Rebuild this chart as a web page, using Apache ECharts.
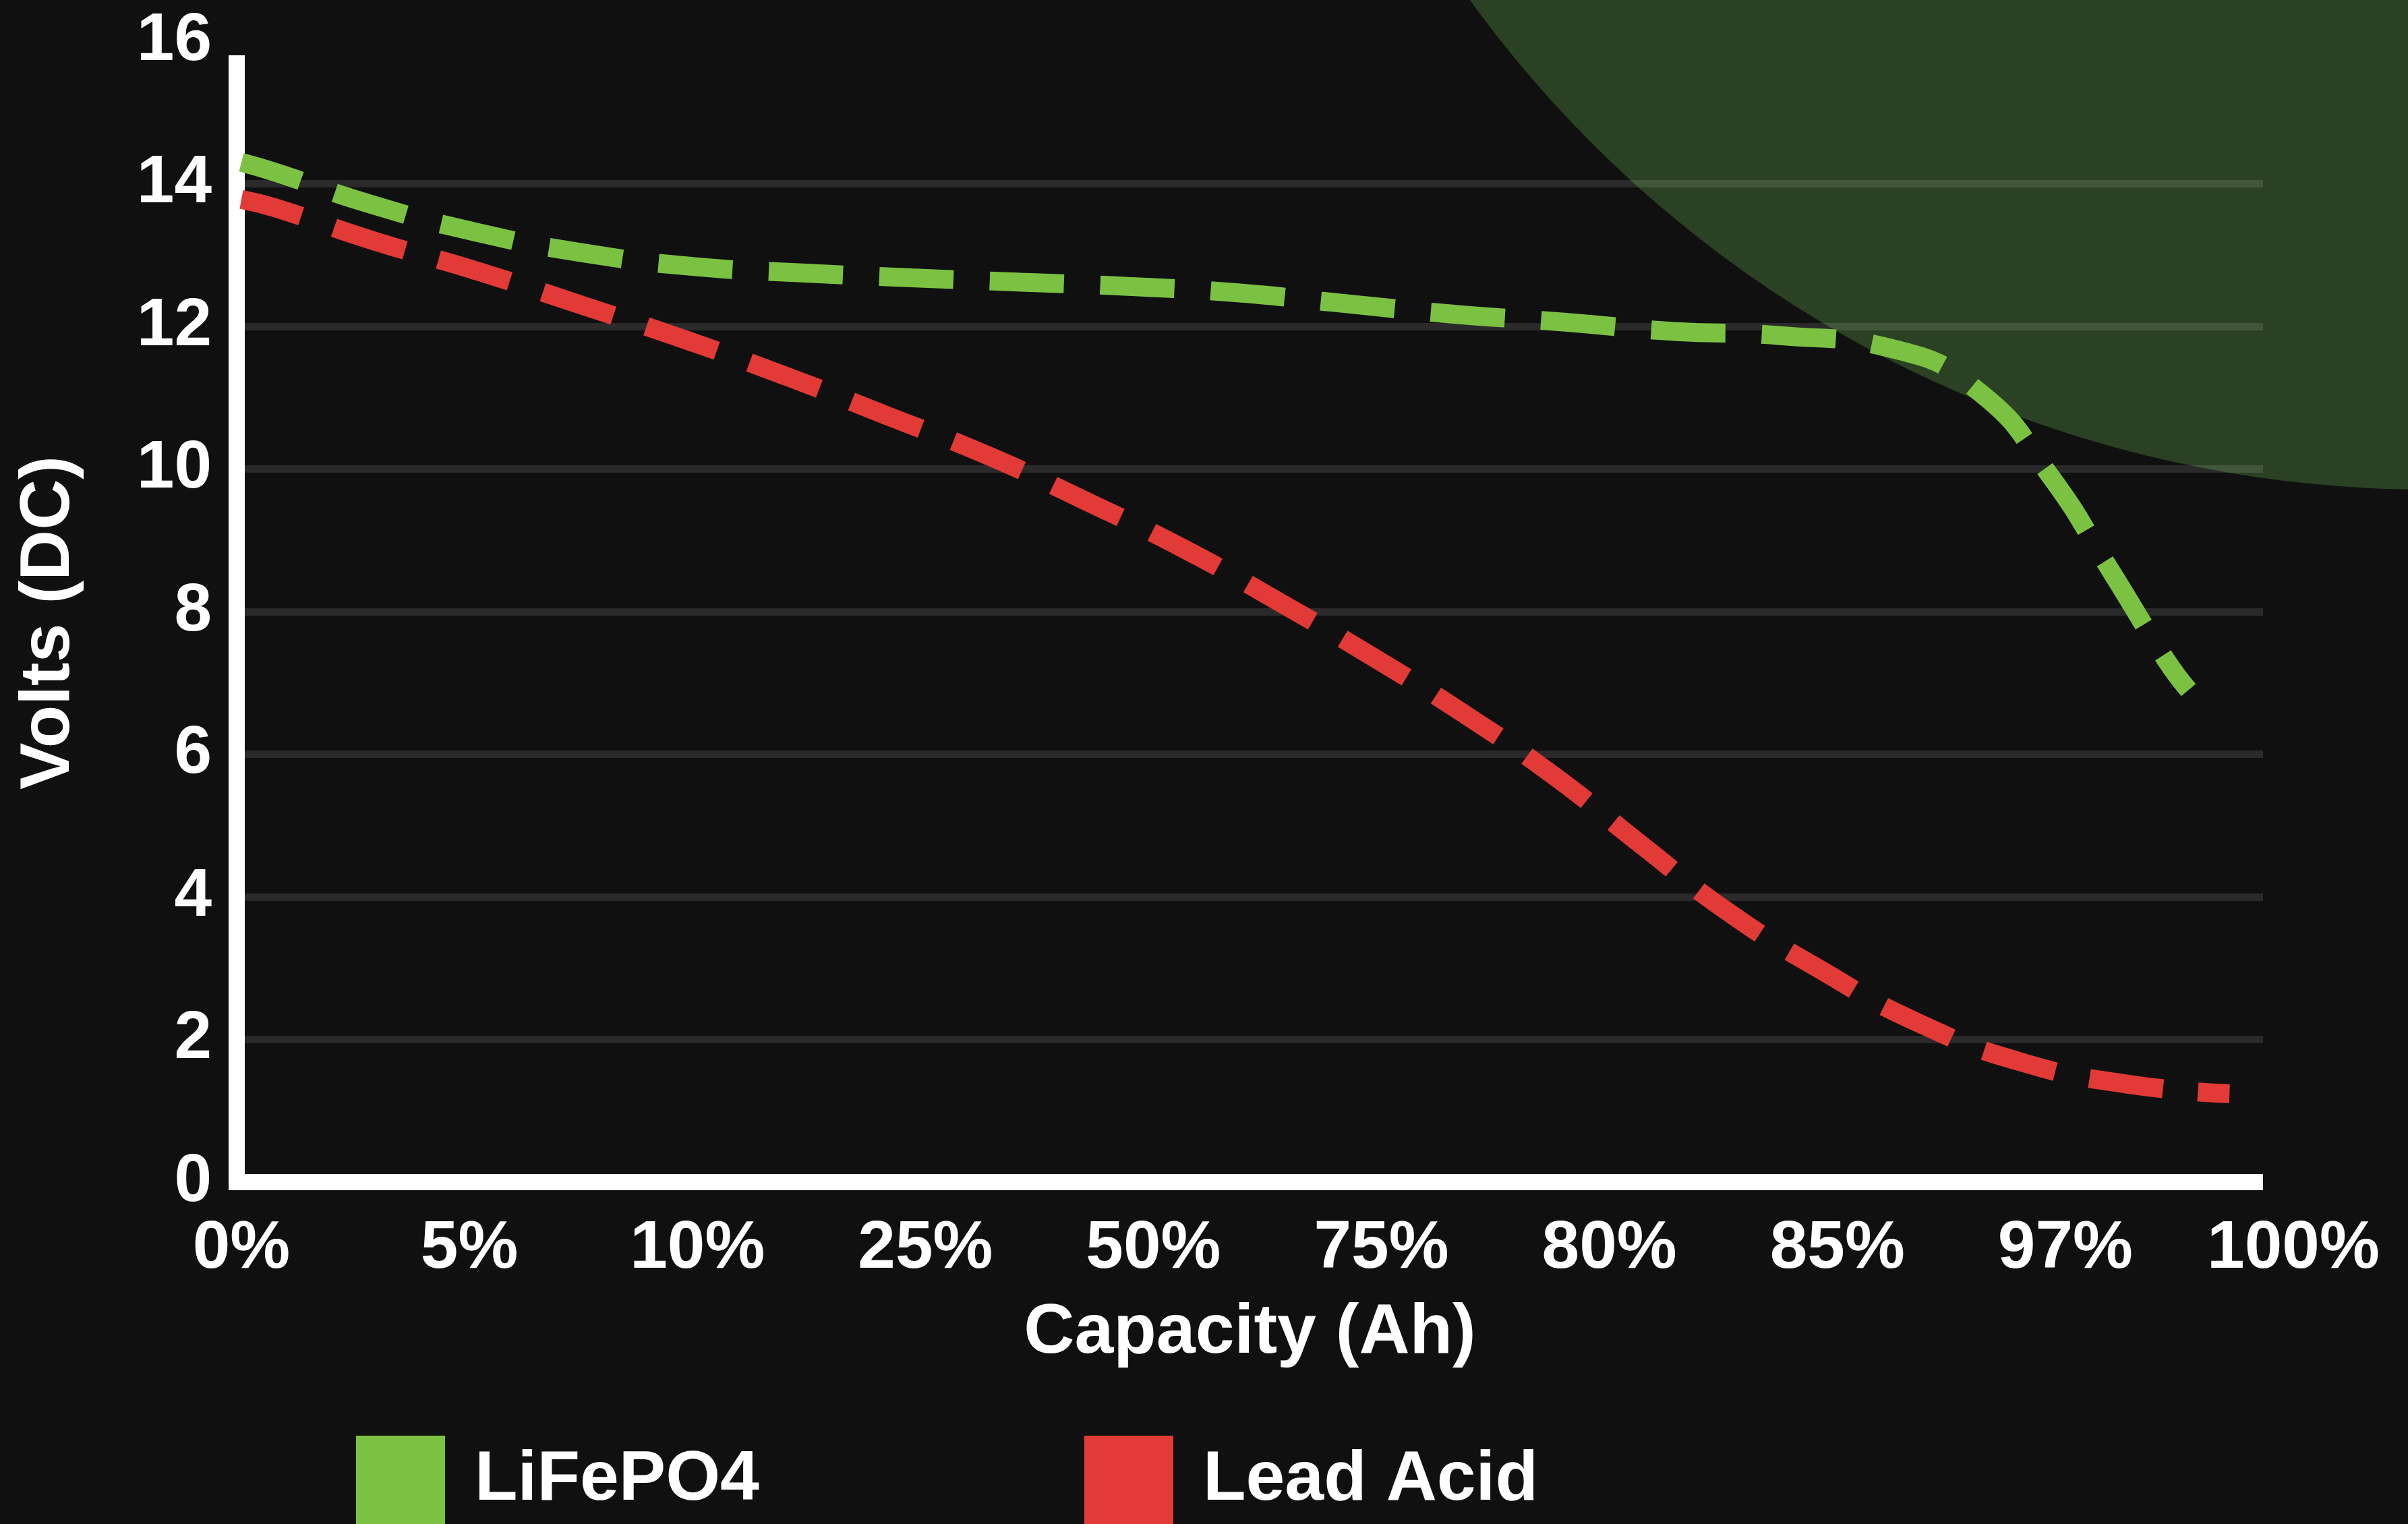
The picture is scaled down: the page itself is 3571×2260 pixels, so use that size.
<!DOCTYPE html>
<html>
<head>
<meta charset="utf-8">
<script src="https://cdn.jsdelivr.net/npm/echarts@6/dist/echarts.min.js"></script>
<style>
html,body{margin:0;padding:0;background:#101010;}
#chart{width:3571px;height:2260px;}
</style>
</head>
<body>
<div id="chart"></div>
<script>
// ---- data ----
const capacityLabels = ['0%', '5%', '10%', '25%', '50%', '75%', '80%', '85%', '97%', '100%'];
// x positions in label-index units (0 = "0%", 9 = "100%")
const lifepo4X = [0, 0.14, 0.56, 1.03, 1.50, 1.98, 2.46, 2.94, 3.42, 3.89, 4.37, 4.84, 5.32, 5.80, 6.28, 6.75, 7.25, 7.63, 7.93, 8.19, 8.44, 8.54];
const lifepo4V = [14.30, 14.17, 13.72, 13.32, 13.03, 12.84, 12.75, 12.68, 12.62, 12.56, 12.47, 12.32, 12.17, 12.06, 11.93, 11.87, 11.68, 11.06, 9.92, 8.62, 7.33, 6.90];
const leadAcidX = [0, 0.15, 0.57, 1.03, 1.49, 1.94, 2.39, 2.83, 3.28, 3.71, 4.14, 4.56, 4.97, 5.37, 5.76, 6.14, 6.52, 6.93, 7.35, 7.81, 8.28, 8.72];
const leadAcidV = [13.78, 13.66, 13.21, 12.78, 12.30, 11.82, 11.30, 10.75, 10.18, 9.54, 8.87, 8.12, 7.35, 6.55, 5.69, 4.73, 3.79, 2.97, 2.24, 1.68, 1.37, 1.24];
const seriesNames = ['LiFePO4', 'Lead Acid'];
const yMin = 0, yMax = 16, yInterval = 2;

// ---- layout ----
const FONT = '"Liberation Sans", Arial, Helvetica, sans-serif';
const GREEN = '#7cc242', RED = '#e23a36';
const zeroY = 1753, unitPx = 105.75;
const axisTopY = 94;
const frameMax = (zeroY - axisTopY) / unitPx;

const chart = echarts.init(document.getElementById('chart'));
const zip = (xs, ys) => xs.map((x, i) => [x, ys[i]]);

const legendBase = (name, left, color) => ({
  data: [name], left: left, top: 2129, padding: 0, orient: 'horizontal',
  icon: 'rect', itemWidth: 132, itemHeight: 132,
  itemStyle: {color: color, borderWidth: 0},
  selectedMode: false,
  textStyle: {color: '#ffffff', fontSize: 104, fontWeight: 'bold', fontFamily: FONT, padding: [6, 0, 0, 39]}
});

chart.setOption({
  backgroundColor: '#101010',
  animation: false,
  graphic: {elements: [{
    type: 'circle', z: -10, silent: true,
    shape: {cx: 3600, cy: -1026, r: 1752},
    style: {fill: '#2a4223'}
  }]},
  grid: [
    {left: 351, right: 215, top: axisTopY, bottom: 2260 - zeroY, containLabel: false},
    {left: 358, right: 170, top: zeroY - yMax * unitPx, bottom: 2260 - zeroY, containLabel: false}
  ],
  legend: [legendBase(seriesNames[0], 528, GREEN), legendBase(seriesNames[1], 1608, RED)],
  xAxis: [
    {
      gridIndex: 0, type: 'value', min: 0, max: 1,
      name: 'Capacity (Ah)', nameLocation: 'middle', nameGap: 172,
      nameTextStyle: {color: '#ffffff', fontSize: 104, fontWeight: 'bold', fontFamily: FONT},
      axisLine: {show: true, lineStyle: {color: '#ffffff', width: 24, cap: 'butt'}},
      axisTick: {show: false}, axisLabel: {show: false}, splitLine: {show: false}
    },
    {
      gridIndex: 1, type: 'value', min: 0, max: capacityLabels.length - 1, interval: 1,
      axisLine: {show: false}, axisTick: {show: false}, splitLine: {show: false},
      axisLabel: {
        show: true, margin: 49, color: '#ffffff', fontSize: 100, fontWeight: 'bold', fontFamily: FONT,
        formatter: v => capacityLabels[Math.round(v)]
      }
    }
  ],
  yAxis: [
    {
      gridIndex: 0, type: 'value', min: yMin, max: frameMax, interval: yInterval,
      name: 'Volts (DC)', nameLocation: 'middle', nameGap: 226,
      nameTextStyle: {color: '#ffffff', fontSize: 104, fontWeight: 'bold', fontFamily: FONT, padding: [0, 0, 0, 0]},
      axisLine: {show: true, lineStyle: {color: '#ffffff', width: 24, cap: 'square'}},
      axisTick: {show: false}, axisLabel: {show: false},
      splitLine: {show: true, showMinLine: false, showMaxLine: false,
        lineStyle: {color: 'rgba(255,255,255,0.11)', width: 11}}
    },
    {
      gridIndex: 1, type: 'value', min: yMin, max: yMax, interval: yInterval,
      axisLine: {show: false}, axisTick: {show: false}, splitLine: {show: false},
      axisLabel: {show: true, margin: 44, color: '#ffffff', fontSize: 100, fontWeight: 'bold', fontFamily: FONT}
    }
  ],
  series: [
    {
      name: seriesNames[0], type: 'line', xAxisIndex: 1, yAxisIndex: 1,
      data: zip(lifepo4X, lifepo4V), symbol: 'none', smooth: 0.5,
      itemStyle: {color: GREEN},
      lineStyle: {color: GREEN, width: 28, type: [110, 54], dashOffset: 18, cap: 'butt'},
      z: 3
    },
    {
      name: seriesNames[1], type: 'line', xAxisIndex: 1, yAxisIndex: 1,
      data: zip(leadAcidX, leadAcidV), symbol: 'none', smooth: 0.5,
      itemStyle: {color: RED},
      lineStyle: {color: RED, width: 28, type: [110, 52], dashOffset: 18, cap: 'butt'},
      z: 3
    }
  ]
});
</script>
</body>
</html>
